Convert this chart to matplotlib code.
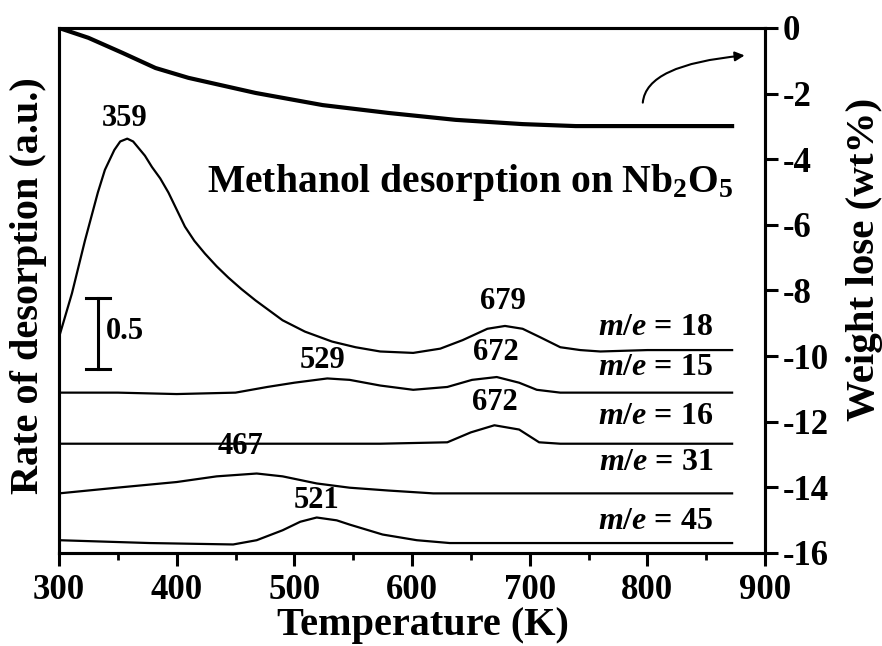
import matplotlib
matplotlib.use("Agg")
import matplotlib.pyplot as plt
from matplotlib.patches import FancyArrowPatch

plt.rcParams['font.family'] = ['Liberation Serif', 'DejaVu Serif']
plt.rcParams['font.weight'] = 'bold'
plt.rcParams['axes.labelweight'] = 'bold'
plt.rcParams['axes.unicode_minus'] = False
plt.rcParams['mathtext.fontset'] = 'custom'
plt.rcParams['mathtext.rm'] = 'Liberation Serif:bold'
plt.rcParams['mathtext.it'] = 'Liberation Serif:italic:bold'
plt.rcParams['mathtext.bf'] = 'Liberation Serif:bold'

# weight loss (TG), right axis
tg_T = [300, 325, 354, 382, 410, 467, 524, 580, 637, 694, 739, 872]
tg_w = [0, -0.30, -0.76, -1.22, -1.52, -1.98, -2.35, -2.59, -2.80, -2.93, -2.99, -2.99]

# desorption traces (a.u.), left axis
T18 = [300, 311, 322, 333, 339, 347, 352, 358, 363, 367, 373, 379, 386, 393, 400, 407, 415, 424,
       434, 444, 455, 467, 490, 509, 532, 552, 573, 601, 624, 643, 664, 679, 694, 709, 726, 743,
       760, 800, 872]
r18 = [1.52, 1.83, 2.20, 2.54, 2.70, 2.84, 2.90, 2.92, 2.90, 2.86, 2.80, 2.72, 2.64, 2.54, 2.42,
       2.30, 2.20, 2.11, 2.02, 1.94, 1.86, 1.78, 1.64, 1.56, 1.49, 1.45, 1.42, 1.41, 1.44, 1.50,
       1.58, 1.60, 1.58, 1.52, 1.45, 1.43, 1.42, 1.43, 1.43]

T15 = [300, 350, 400, 450, 477, 500, 528, 547, 573, 601, 630, 651, 672, 691, 706, 726, 743, 872]
r15 = [1.13, 1.13, 1.12, 1.13, 1.17, 1.20, 1.23, 1.22, 1.18, 1.15, 1.17, 1.22, 1.24, 1.20, 1.15,
       1.13, 1.13, 1.13]

T16 = [300, 400, 500, 573, 630, 650, 670, 691, 708, 726, 872]
r16 = [0.77, 0.77, 0.77, 0.77, 0.78, 0.85, 0.90, 0.87, 0.78, 0.77, 0.77]

T31 = [300, 349, 400, 434, 468, 490, 519, 547, 580, 618, 700, 872]
r31 = [0.42, 0.46, 0.50, 0.54, 0.56, 0.54, 0.49, 0.46, 0.44, 0.42, 0.42, 0.42]

T45 = [300, 377, 448, 468, 490, 505, 519, 536, 547, 575, 604, 632, 700, 872]
r45 = [0.09, 0.07, 0.06, 0.09, 0.16, 0.22, 0.25, 0.23, 0.20, 0.13, 0.09, 0.07, 0.07, 0.07]

traces = [(T18, r18), (T15, r15), (T16, r16), (T31, r31), (T45, r45)]

# peak labels: (T, a.u., text)
peaks = [(356, 3.06, '359'), (677, 1.77, '679'), (524, 1.36, '529'), (671, 1.41, '672'),
         (670, 1.06, '672'), (454, 0.75, '467'), (519, 0.37, '521')]
# m/e labels: (a.u., mass)
masses = [(1.59, '18'), (1.31, '15'), (0.96, '16'), (0.64, '31'), (0.22, '45')]

fig = plt.figure(figsize=(8.82, 6.46), dpi=100)
ax = fig.add_axes([0.0669, 0.144, 0.8005, 0.8127])
ax2 = ax.twinx()

for T, r in traces:
    ax.plot(T, r, color='black', lw=1.6, solid_joinstyle='round')
ax2.plot(tg_T, tg_w, color='black', lw=3, solid_joinstyle='round')

ax.set_xlim(300, 900)
ax.set_ylim(0, 3.70)
ax2.set_ylim(-16, 0)

ax.set_xticks(range(300, 901, 100))
ax.set_xticks(range(350, 900, 100), minor=True)
ax.set_yticks([])
ax.tick_params(axis='x', which='major', direction='out', length=9, width=2.2, labelsize=25, pad=6)
ax.tick_params(axis='x', which='minor', direction='out', length=5, width=2)
ax2.set_yticks(range(-16, 1, 2))
ax2.tick_params(axis='y', direction='out', length=9, width=2.2, labelsize=25, pad=4)
for a in (ax, ax2):
    for s in a.spines.values():
        s.set_linewidth(2.2)

ax.set_xlabel('Temperature (K)', fontsize=29)
ax.set_ylabel('Rate of desorption (a.u.)', fontsize=29)
ax2.set_ylabel('Weight lose (wt%)', fontsize=29.5)
ax.xaxis.set_label_coords(0.516, -0.103)
ax.yaxis.set_label_coords(-0.017, 0.509)
ax2.yaxis.set_label_coords(1.114, 0.56)

for T, r, txt in peaks:
    ax.text(T, r, txt, fontsize=22, ha='center', va='center')
for r, m in masses:
    ax.text(856, r, r'$\mathit{m/e}$ = ' + m, fontsize=23, ha='right', va='center')

ax.text(426, 2.61, r'Methanol desorption on Nb$_\mathregular{2}$O$_\mathregular{5}$',
        fontsize=28.5, ha='left', va='center')

# 0.5 scale bar
ax.plot([333, 333], [1.30, 1.80], color='black', lw=2.2)
ax.plot([323, 343], [1.80, 1.80], color='black', lw=2.2)
ax.plot([323, 343], [1.30, 1.30], color='black', lw=2.2)
ax.text(340, 1.56, '0.5', fontsize=22, ha='left', va='center')

# arrow pointing to right axis
arr = FancyArrowPatch((796, -2.36), (885, -0.83), connectionstyle='angle3,angleA=90,angleB=5',
                      arrowstyle='-|>', mutation_scale=14, lw=1.5, color='black')
ax2.add_patch(arr)

fig.savefig('out.png', dpi=100)
